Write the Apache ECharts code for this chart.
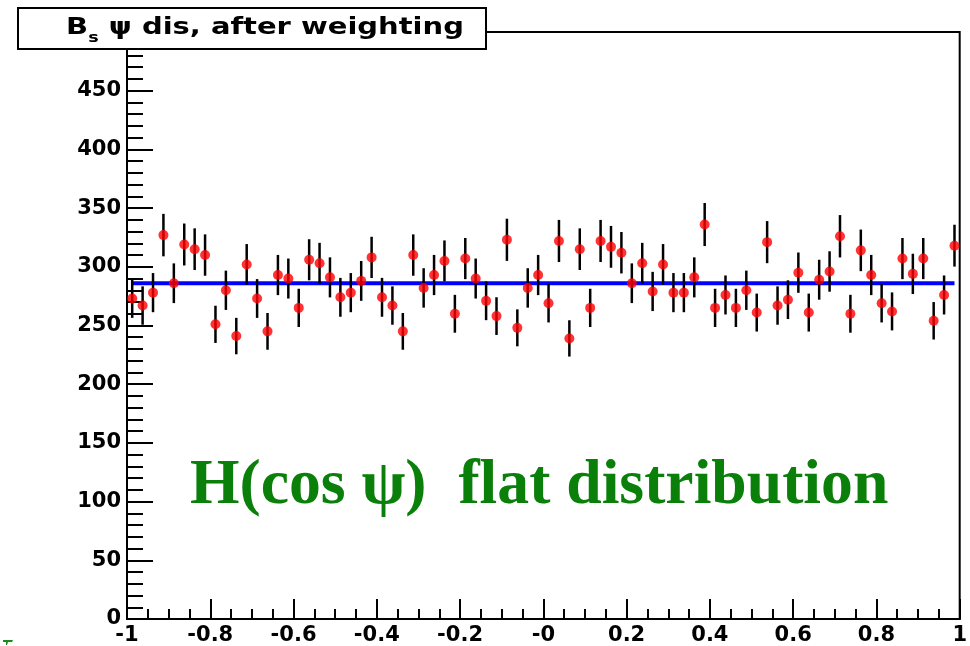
<!DOCTYPE html>
<html>
<head>
<meta charset="utf-8">
<script src="https://cdn.jsdelivr.net/npm/echarts@6/dist/echarts.min.js"></script>
<style>
  html, body { margin: 0; padding: 0; background: #ffffff; }
  #chart { width: 970px; height: 646px; }
</style>
</head>
<body>
<div id="chart"></div>
<script>
// Histogram of cos(psi) after weighting: 80 bins over [-1, 1]
const binLow = -1;
const binHigh = 1;
const counts = [
  273, 267, 278, 327, 286, 319, 315, 310, 251, 280, 241, 302, 273, 245, 293, 290, 265, 306, 303, 291,
  274, 278, 288, 308, 274, 267, 245, 310, 282, 293, 305, 260, 307, 290, 271, 258, 323, 248, 282, 293,
  269, 322, 239, 315, 265, 322, 317, 312, 286, 303, 279, 302, 278, 278, 291, 336, 265, 276, 265, 280,
  261, 321, 267, 272, 295, 261, 289, 296, 326, 260, 314, 293, 269, 262, 307, 294, 307, 254, 276, 318
];
// Flat fit (constant) and its range
const fitValue = 286;
const fitRange = [-0.9875, 0.9875];
// Axis tick labels as drawn
const xTickValues = [-1, -0.8, -0.6, -0.4, -0.2, 0, 0.2, 0.4, 0.6, 0.8, 1];
const xTickLabels = ['-1', '-0.8', '-0.6', '-0.4', '-0.2', '-0', '0.2', '0.4', '0.6', '0.8', '1'];
const yTickLabels = ['0', '50', '100', '150', '200', '250', '300', '350', '400', '450', ''];

const nBins = counts.length;
const binWidth = (binHigh - binLow) / nBins;
const points = counts.map((c, i) => [binLow + (i + 0.5) * binWidth, c, Math.sqrt(c)]);

const chart = echarts.init(document.getElementById('chart'), null, { renderer: 'canvas' });

const labelFont = {
  fontFamily: 'DejaVu Sans',
  fontWeight: 'bold',
  fontSize: 21,
  color: '#000'
};

chart.setOption({
  backgroundColor: '#ffffff',
  animation: false,
  grid: {
    left: 127, right: 8, top: 32, bottom: 27,
    show: true, borderColor: '#000', borderWidth: 2, backgroundColor: 'transparent'
  },
  xAxis: {
    type: 'value', min: -1, max: 1, interval: 0.2,
    axisLine: { onZero: false, lineStyle: { color: '#000', width: 2 } },
    axisTick: { inside: true, length: 20, lineStyle: { color: '#000', width: 2 } },
    minorTick: { show: true, splitNumber: 4, length: 10, lineStyle: { color: '#000', width: 2 } },
    splitLine: { show: false },
    axisLabel: Object.assign({
      margin: 6,
      showMinLabel: true, showMaxLabel: true,
      formatter: v => {
        const k = xTickValues.findIndex(t => Math.abs(t - v) < 1e-6);
        return k >= 0 ? xTickLabels[k] : '';
      }
    }, labelFont)
  },
  yAxis: {
    type: 'value', min: 0, max: 500, interval: 50,
    axisLine: { show: true, onZero: false, lineStyle: { color: '#000', width: 2 } },
    axisTick: { show: true, inside: true, length: 26, lineStyle: { color: '#000', width: 2 } },
    minorTick: { show: true, splitNumber: 5, length: 16, lineStyle: { color: '#000', width: 2 } },
    splitLine: { show: false },
    axisLabel: Object.assign({
      margin: 6,
      formatter: v => yTickLabels[Math.round(v / 50)] || ''
    }, labelFont)
  },
  series: [
    {
      // flat fit line
      type: 'line',
      data: [[fitRange[0], fitValue], [fitRange[1], fitValue]],
      symbol: 'none',
      lineStyle: { color: '#0000ff', width: 4 },
      z: 2
    },
    {
      // statistical error bars
      type: 'custom',
      data: points,
      renderItem: (params, api) => {
        const x = api.value(0), y = api.value(1), e = api.value(2);
        const p1 = api.coord([x, y - e]);
        const p2 = api.coord([x, y + e]);
        return {
          type: 'line',
          shape: { x1: p1[0], y1: p1[1], x2: p2[0], y2: p2[1] },
          style: { stroke: '#000', lineWidth: 2.5 }
        };
      },
      z: 3
    },
    {
      type: 'scatter',
      data: points.map(p => [p[0], p[1]]),
      symbol: 'circle',
      symbolSize: 10,
      itemStyle: { color: '#ff0000' },
      z: 4
    }
  ],
  graphic: [
    {
      type: 'rect',
      shape: { x: 18, y: 8, width: 468, height: 41 },
      style: { fill: '#ffffff', stroke: '#000', lineWidth: 2 },
      z: 100
    },
    {
      type: 'text',
      x: 265, y: 28,
      scaleX: 1.26,
      style: {
        text: '{b|B}{s|s}{b| ψ dis, after weighting}',
        align: 'center', verticalAlign: 'middle',
        rich: {
          b: { fontFamily: 'DejaVu Sans', fontWeight: 'bold', fontSize: 23, fill: '#000', lineHeight: 30, verticalAlign: 'middle' },
          s: { fontFamily: 'DejaVu Sans', fontWeight: 'bold', fontSize: 14, fill: '#000', lineHeight: 34, verticalAlign: 'bottom' }
        }
      },
      z: 101
    },
    {
      type: 'text',
      x: 190, y: 486,
      scaleX: 0.995,
      style: {
        text: 'H(cos ψ)  flat distribution',
        fontFamily: 'Liberation Serif', fontWeight: 'bold', fontSize: 64,
        fill: '#0a800a', align: 'left', verticalAlign: 'middle'
      },
      z: 101
    },
    {
      // small green fragment at the lower-left corner
      type: 'polygon',
      shape: { points: [[3, 640], [13, 640], [12, 642], [8, 642], [7, 645], [6, 645], [6, 642], [3, 642]] },
      style: { fill: '#1a8a1a' },
      z: 101
    }
  ]
});
</script>
</body>
</html>
